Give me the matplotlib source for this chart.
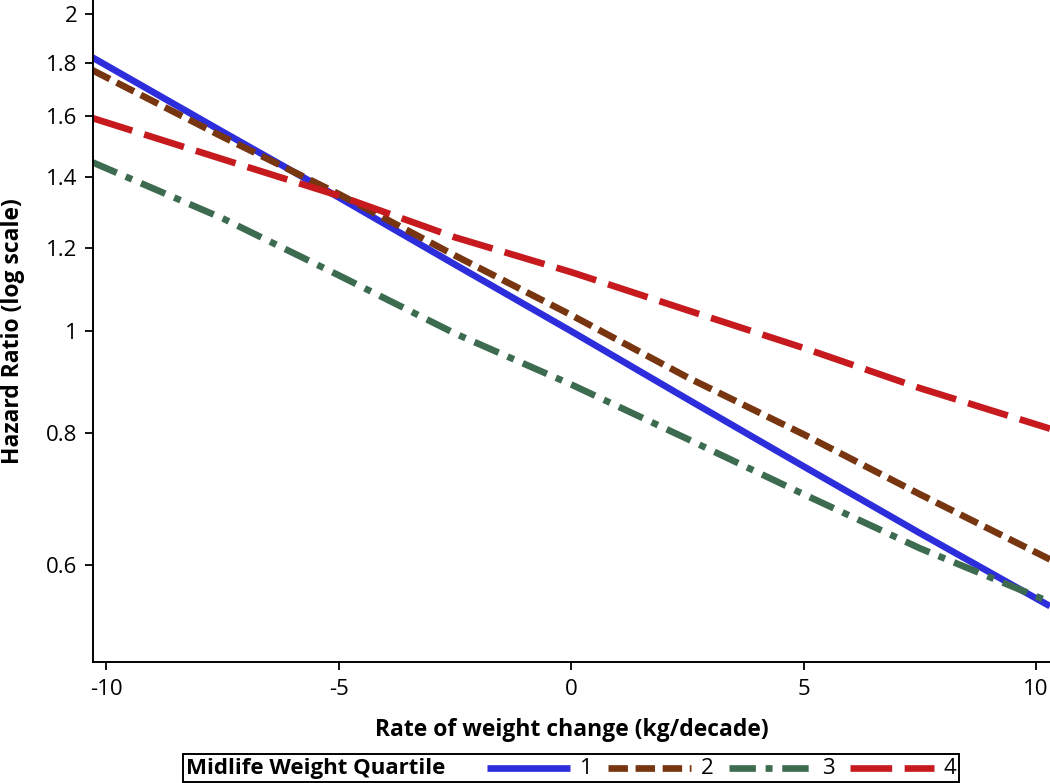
import numpy as np
import matplotlib
matplotlib.use("Agg")
import matplotlib.pyplot as plt
from matplotlib.lines import Line2D
from matplotlib.ticker import FixedLocator, FixedFormatter, NullLocator
from matplotlib.offsetbox import AnchoredOffsetbox, HPacker, TextArea, DrawingArea

plt.rcParams['font.family'] = ['Open Sans', 'DejaVu Sans']
plt.rcParams['lines.scale_dashes'] = False

# values (hazard ratio vs rate of weight change)
x_vals = [-10.3, -7.5, -5, -2.5, 0, 2.5, 5, 7.5, 10.3]
hr_q1 = [1.82, 1.547, 1.34, 1.157, 1.0, 0.862, 0.744, 0.643, 0.548]
hr_q2 = [1.77, 1.53, 1.35, 1.18, 1.036, 0.904, 0.798, 0.70, 0.607]
hr_q3 = [1.447, 1.28, 1.13, 0.995, 0.89, 0.79, 0.70, 0.622, 0.553]
hr_q4 = [1.594, 1.457, 1.345, 1.228, 1.138, 1.047, 0.964, 0.883, 0.808]

quartiles = ['1', '2', '3', '4']
colors = ['#2d2ddc', '#773510', '#3d6b4f', '#c71a1f']
dash_styles = [None, (0, (14, 5.5)), (0, (19, 7, 5, 7)), (0, (30, 9))]

y_ticks = [0.6, 0.8, 1, 1.2, 1.4, 1.6, 1.8, 2]
y_tick_labels = ['0.6', '0.8', '1', '1.2', '1.4', '1.6', '1.8', '2']
x_ticks = [-10, -5, 0, 5, 10]

fig = plt.figure(figsize=(10.5, 7.83), dpi=100)
ax = fig.add_axes([93 / 1050, 1 - 662 / 783, 1 - 93 / 1050, 662 / 783])

series = [hr_q1, hr_q2, hr_q3, hr_q4]
for vals, c, ls in zip(series, colors, dash_styles):
    if ls is None:
        ax.plot(x_vals, vals, color=c, lw=4.8, solid_capstyle='butt')
    else:
        ax.plot(x_vals, vals, color=c, lw=4.8, linestyle=ls, dash_capstyle='butt')

ax.set_yscale('log')
ax.set_ylim(0.485, 2.064)
ax.set_xlim(-10.29, 10.3)
ax.yaxis.set_major_locator(FixedLocator(y_ticks))
ax.yaxis.set_major_formatter(FixedFormatter(y_tick_labels))
ax.yaxis.set_minor_locator(NullLocator())
ax.set_xticks(x_ticks)
ax.set_xticklabels([str(v) for v in x_ticks])

for s in ['top', 'right']:
    ax.spines[s].set_visible(False)
for s in ['left', 'bottom']:
    ax.spines[s].set_linewidth(1.4)
ax.tick_params(axis='both', direction='out', length=6, width=1.3, labelsize=16)
ax.tick_params(axis='x', pad=6)
ax.tick_params(axis='y', pad=5)

ax.set_xlabel('Rate of weight change (kg/decade)', fontsize=16.5, fontweight='bold')
ax.xaxis.set_label_coords(0.5, -56 / 662)
ax.set_ylabel('Hazard Ratio (log scale)', fontsize=16.5, fontweight='bold')
ax.yaxis.set_label_coords(-68 / 957, 0.5)

# legend strip with inline title
title = TextArea('Midlife Weight Quartile', textprops=dict(fontsize=16, fontweight='bold'))
items = []
for q, c, ls in zip(quartiles, colors, dash_styles):
    da = DrawingArea(60, 10, 0, 0)
    ln = Line2D([0, 60], [5, 5], color=c, lw=4.8,
                linestyle='-' if ls is None else ls, dash_capstyle='butt', solid_capstyle='butt')
    da.add_artist(ln)
    items.append(HPacker(children=[da, TextArea(q, textprops=dict(fontsize=16))],
                         align='center', pad=0, sep=7))
spacer = DrawingArea(8, 10, 0, 0)
pack = HPacker(children=[title, spacer] + items, align='center', pad=0, sep=11)
box = AnchoredOffsetbox(loc='lower center', child=pack, pad=0.25, borderpad=0,
                        frameon=True, bbox_to_anchor=(571 / 1050, 1 / 783),
                        bbox_transform=fig.transFigure)
box.patch.set_boxstyle('square', pad=0)
box.patch.set_edgecolor('black')
box.patch.set_linewidth(1.4)
fig.add_artist(box)

fig.savefig('out.png', dpi=100)
